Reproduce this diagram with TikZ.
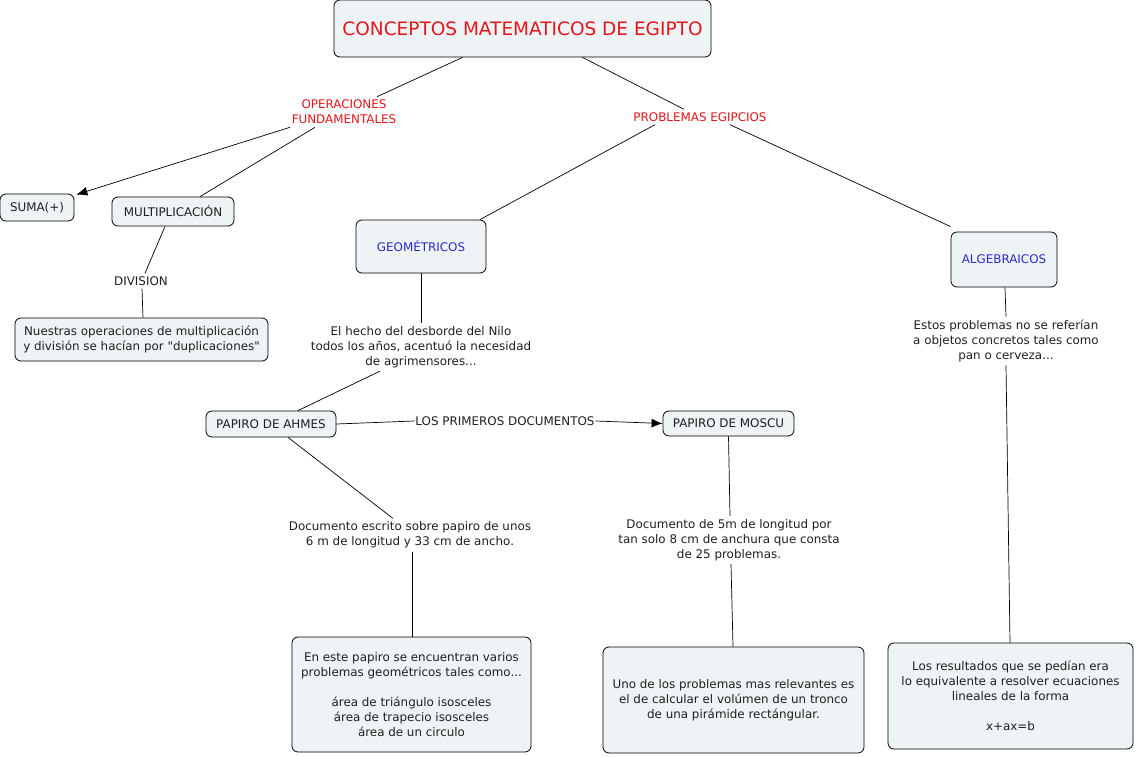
\documentclass[tikz,border=0pt]{standalone}
\usepackage{fontspec}
\newfontfamily\dvs{DejaVu Sans}
\usetikzlibrary{arrows.meta}
\definecolor{boxfill}{HTML}{EEF3F5}
\definecolor{redtxt}{HTML}{E3161B}
\definecolor{bluetxt}{HTML}{2A2AC8}
\definecolor{txt}{HTML}{202020}
\newcommand{\bodyfont}{\dvs\fontsize{11.9}{15.2}\selectfont}
\begin{document}
\begin{tikzpicture}[x=1pt,y=-1pt,
  box/.style={draw, rounded corners=6pt, fill=boxfill, align=center, font=\bodyfont, text=txt, line width=0.8pt, inner sep=2pt},
  lbl/.style={align=center, font=\bodyfont, text=txt, inner sep=3pt},
  redlbl/.style={lbl, text=redtxt},
  conn/.style={draw, line width=0.7pt},
  arr/.style={conn, -{Latex[length=11pt,width=9pt]}}]
\useasboundingbox (0,0) rectangle (1136,757);
\fill[white] (0,0) rectangle (1136,757);

\node[box, minimum width=377pt, minimum height=57pt, text=redtxt, font=\dvs\fontsize{18.5}{22}\selectfont] (title) at (522.5,28.5) {CONCEPTOS MATEMATICOS DE EGIPTO};
\node[redlbl] (oper) at (344,112) {OPERACIONES\\FUNDAMENTALES};
\node[redlbl] (prob) at (700,117) {PROBLEMAS EGIPCIOS};
\node[box, minimum width=74pt, minimum height=27pt] (suma) at (37,207.5) {SUMA(+)};
\node[box, minimum width=122pt, minimum height=29pt] (mult) at (173,211.5) {MULTIPLICACIÓN};
\node[lbl] (div) at (141,281) {DIVISION};
\node[box, minimum width=253pt, minimum height=43pt] (nuestras) at (141.5,339.5) {Nuestras operaciones de multiplicación\\y división se hacían por "duplicaciones"};
\node[box, minimum width=130pt, minimum height=53pt, text=bluetxt] (geom) at (421,246.5) {GEOMÉTRICOS};
\node[box, minimum width=106pt, minimum height=55pt, text=bluetxt] (alg) at (1004,259.5) {ALGEBRAICOS};
\node[lbl] (nilo) at (421,347) {El hecho del desborde del Nilo\\todos los años, acentuó la necesidad\\de agrimensores...};
\node[lbl] (estos) at (1006,341) {Estos problemas no se referían\\a objetos concretos tales como\\pan o cerveza...};
\node[box, minimum width=130pt, minimum height=26pt] (ahmes) at (271,424) {PAPIRO DE AHMES};
\node[lbl, inner sep=1pt] (primeros) at (505,421) {LOS PRIMEROS DOCUMENTOS};
\node[box, minimum width=131pt, minimum height=25pt] (moscu) at (728.5,423.5) {PAPIRO DE MOSCU};
\node[lbl] (docahmes) at (410,535) {Documento escrito sobre papiro de unos\\6 m de longitud y 33 cm de ancho.};
\node[lbl] (docmoscu) at (729,540) {Documento de 5m de longitud por\\tan solo 8 cm de anchura que consta\\de 25 problemas.};
\node[box, minimum width=239pt, minimum height=115pt] (papiro) at (411.5,694.5) {En este papiro se encuentran varios\\problemas geométricos tales como...\\[15pt]área de triángulo isosceles\\área de trapecio isosceles\\área de un circulo};
\node[box, minimum width=261pt, minimum height=106pt] (uno) at (733.5,700) {Uno de los problemas mas relevantes es\\el de calcular el volúmen de un tronco\\de una pirámide rectángular.};
\node[box, minimum width=245pt, minimum height=106pt] (res) at (1010.5,696) {Los resultados que se pedían era\\lo equivalente a resolver ecuaciones\\lineales de la forma\\[15pt]x+ax=b};

\draw[conn] ([xshift=-60pt]title.south) -- ([xshift=33pt]oper.north);
\draw[conn] ([xshift=60pt]title.south) -- ([xshift=-16pt]prob.north);
\draw[arr] ([xshift=-54pt]oper.south) -- ([xshift=2pt,yshift=-1pt]suma.north east);
\draw[conn] ([xshift=-29pt]oper.south) -- ([xshift=27pt]mult.north);
\draw[conn] ([xshift=-8pt]mult.south) -- ([xshift=4pt]div.north);
\draw[conn] ([xshift=1pt]div.south) -- ([xshift=1.5pt]nuestras.north);
\draw[conn] ([xshift=-45pt]prob.south) -- ([xshift=59pt]geom.north);
\draw[conn] ([xshift=30pt]prob.south) -- ([yshift=5pt]alg.north west);
\draw[conn] (geom.south) -- (nilo.north);
\draw[conn] ([xshift=-41pt]nilo.south) -- ([xshift=27pt]ahmes.north);
\draw[conn] (ahmes.east) -- (primeros.west);
\draw[arr] (primeros.east) -- (moscu.west);
\draw[conn] ([xshift=17pt]ahmes.south) -- ([xshift=-17pt]docahmes.north);
\draw[conn] ([xshift=2pt]docahmes.south) -- ([xshift=0.5pt]papiro.north);
\draw[conn] (moscu.south) -- ([xshift=1pt]docmoscu.north);
\draw[conn] ([xshift=2pt]docmoscu.south) -- ([xshift=-0.5pt]uno.north);
\draw[conn] ([xshift=1pt]alg.south) -- (estos.north);
\draw[conn] (estos.south) -- ([xshift=-0.5pt]res.north);
\end{tikzpicture}
\end{document}
